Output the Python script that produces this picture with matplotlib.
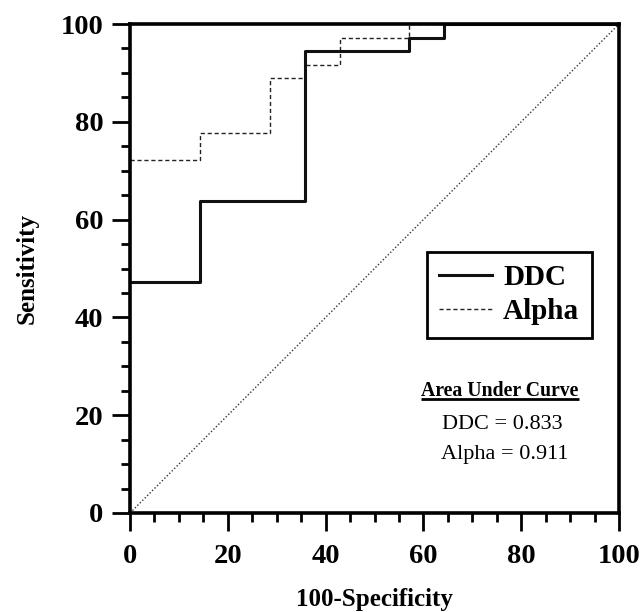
import matplotlib
matplotlib.use("Agg")
import matplotlib.pyplot as plt
from matplotlib.ticker import MultipleLocator

# ROC step curves (100-specificity, sensitivity)
ddc_x = [0, 14.3, 35.7, 57.1, 64.3, 100]
ddc_y = [47.2, 63.9, 94.4, 97.2, 100, 100]
alpha_x = [0, 14.3, 28.6, 35.7, 42.9, 57.1, 100]
alpha_y = [72.2, 77.8, 88.9, 91.7, 97.2, 100, 100]
chance = [0, 100]

auc_title = "Area Under Curve"
auc_lines = ["DDC = 0.833", "Alpha = 0.911"]
ticks = [0, 20, 40, 60, 80, 100]

plt.rcParams['font.family'] = ['Liberation Serif', 'DejaVu Serif']

fig = plt.figure(figsize=(6.44, 6.12), dpi=100)
ax = fig.add_axes([130 / 644, 1 - 513 / 612, 489 / 644, 489 / 612])

ax.plot(chance, chance, color='#333333', lw=1.0, ls=(0, (1, 1.5)))
ax.step(alpha_x, alpha_y, where='post', color='#222222', lw=1.0,
        ls=(0, (3, 2)), label='Alpha')
ax.step(ddc_x, ddc_y, where='post', color='#111111', lw=2.2, label='DDC')

ax.set_xlim(0, 100)
ax.set_ylim(0, 100)
ax.set_xticks(ticks)
ax.set_yticks(ticks)
ax.xaxis.set_minor_locator(MultipleLocator(5))
ax.yaxis.set_minor_locator(MultipleLocator(5))
ax.tick_params(which='major', direction='out', length=13, width=2,
               labelsize=20.5)
ax.tick_params(axis='x', which='major', pad=9)
ax.tick_params(axis='y', which='major', pad=6)
ax.tick_params(which='minor', direction='out', length=6.5, width=2)
for lab in ax.get_xticklabels() + ax.get_yticklabels():
    lab.set_fontweight('bold')
for sp in ax.spines.values():
    sp.set_linewidth(2.6)

ax.set_xlabel("100-Specificity", fontsize=18, fontweight='bold', labelpad=14)
ax.set_ylabel("Sensitivity", fontsize=18, fontweight='bold', labelpad=16)

handles, labels = ax.get_legend_handles_labels()
leg = ax.legend(handles[::-1], labels[::-1], loc='upper left',
                bbox_to_anchor=(0.607, 0.534), fancybox=False,
                edgecolor='black', framealpha=1, handlelength=1.8,
                borderpad=0.42, labelspacing=0.25, handletextpad=0.4,
                borderaxespad=0, prop={'size': 21, 'weight': 'bold'})
leg.get_frame().set_linewidth(2)
leg.set_zorder(5)

title = ax.text(0.757, 0.249, auc_title, transform=ax.transAxes,
                ha='center', va='center', fontsize=14.2, fontweight='bold')
ax.text(0.761, 0.182, auc_lines[0], transform=ax.transAxes,
        ha='center', va='center', fontsize=16)
ax.text(0.767, 0.119, auc_lines[1], transform=ax.transAxes,
        ha='center', va='center', fontsize=16)

# underline the AUC heading
fig.canvas.draw()
bb = title.get_window_extent().transformed(ax.transAxes.inverted())
ax.plot([bb.x0, bb.x1], [bb.y0 + 0.004, bb.y0 + 0.004], transform=ax.transAxes,
        color='black', lw=2, solid_capstyle='butt', clip_on=False)

fig.savefig("out.png", dpi=100)
